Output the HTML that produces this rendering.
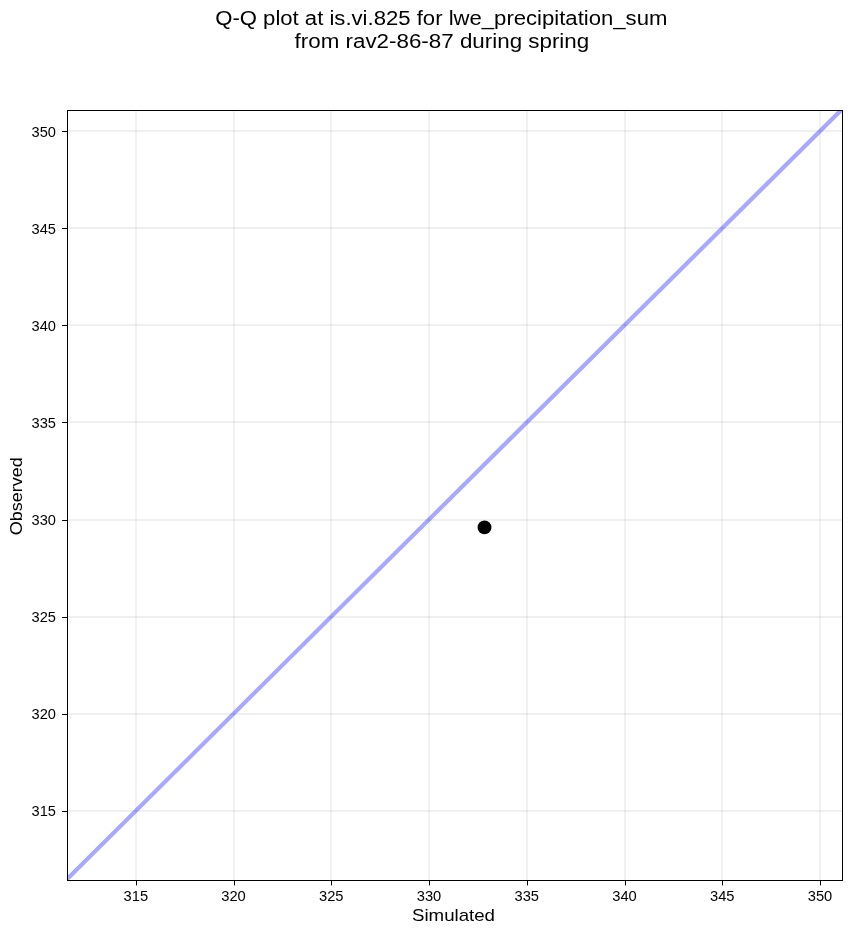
<!DOCTYPE html>
<html lang="en">
<head>
<meta charset="utf-8">
<title>Q-Q plot at is.vi.825 for lwe_precipitation_sum</title>
<style>
html,body{margin:0;padding:0;background:#ffffff;}
body{width:851px;height:934px;overflow:hidden;}
svg{display:block;will-change:transform;}
text{font-family:"Liberation Sans",sans-serif;fill:#000000;}
.title{font-size:19.5px;}
.tick{font-size:14.1px;}
.lab{font-size:17.0px;}
</style>
</head>
<body>
<svg width="851" height="934" viewBox="0 0 851 934">
<rect x="0" y="0" width="851" height="934" fill="#ffffff"/>
<defs><clipPath id="ax"><rect x="67.5" y="110.5" width="775.0" height="770.0"/></clipPath></defs>
<g shape-rendering="crispEdges" fill="#000000">
<rect x="135" y="111" width="2" height="769" fill-opacity="0.05"/>
<rect x="233" y="111" width="2" height="769" fill-opacity="0.05"/>
<rect x="330" y="111" width="2" height="769" fill-opacity="0.05"/>
<rect x="428" y="111" width="2" height="769" fill-opacity="0.05"/>
<rect x="526" y="111" width="2" height="769" fill-opacity="0.05"/>
<rect x="624" y="111" width="2" height="769" fill-opacity="0.05"/>
<rect x="721" y="111" width="2" height="769" fill-opacity="0.05"/>
<rect x="819" y="111" width="2" height="769" fill-opacity="0.05"/>
<rect x="68" y="810" width="774" height="2" fill-opacity="0.06"/>
<rect x="68" y="713" width="774" height="2" fill-opacity="0.06"/>
<rect x="68" y="616" width="774" height="2" fill-opacity="0.06"/>
<rect x="68" y="519" width="774" height="2" fill-opacity="0.06"/>
<rect x="68" y="421" width="774" height="2" fill-opacity="0.06"/>
<rect x="68" y="324" width="774" height="2" fill-opacity="0.06"/>
<rect x="68" y="227" width="774" height="2" fill-opacity="0.06"/>
<rect x="68" y="130" width="774" height="2" fill-opacity="0.06"/>
</g>
<g clip-path="url(#ax)"><line x1="27.85" y1="918.1" x2="880.35" y2="71.1" stroke="#0000ff" stroke-opacity="0.34" stroke-width="4.17" stroke-linecap="butt"/></g>
<circle cx="484.5" cy="527.4" r="6.95" fill="#000000"/>
<g shape-rendering="crispEdges" fill="#000000">
<rect x="67" y="110" width="776" height="1"/>
<rect x="67" y="880" width="776" height="1"/>
<rect x="67" y="110" width="1" height="771"/>
<rect x="842" y="110" width="1" height="771"/>
</g>
<g fill="#000000">
<rect x="136" y="881" width="1" height="4.4"/>
<rect x="234" y="881" width="1" height="4.4"/>
<rect x="331" y="881" width="1" height="4.4"/>
<rect x="429" y="881" width="1" height="4.4"/>
<rect x="527" y="881" width="1" height="4.4"/>
<rect x="625" y="881" width="1" height="4.4"/>
<rect x="722" y="881" width="1" height="4.4"/>
<rect x="820" y="881" width="1" height="4.4"/>
<rect x="62.1" y="811" width="4.9" height="1"/>
<rect x="62.1" y="714" width="4.9" height="1"/>
<rect x="62.1" y="617" width="4.9" height="1"/>
<rect x="62.1" y="520" width="4.9" height="1"/>
<rect x="62.1" y="422" width="4.9" height="1"/>
<rect x="62.1" y="325" width="4.9" height="1"/>
<rect x="62.1" y="228" width="4.9" height="1"/>
<rect x="62.1" y="131" width="4.9" height="1"/>
</g>
<text class="tick" x="135.80" y="901" text-anchor="middle" textLength="24.5" lengthAdjust="spacingAndGlyphs">315</text>
<text class="tick" x="233.54" y="901" text-anchor="middle" textLength="24.5" lengthAdjust="spacingAndGlyphs">320</text>
<text class="tick" x="331.28" y="901" text-anchor="middle" textLength="24.5" lengthAdjust="spacingAndGlyphs">325</text>
<text class="tick" x="429.02" y="901" text-anchor="middle" textLength="24.5" lengthAdjust="spacingAndGlyphs">330</text>
<text class="tick" x="526.76" y="901" text-anchor="middle" textLength="24.5" lengthAdjust="spacingAndGlyphs">335</text>
<text class="tick" x="624.50" y="901" text-anchor="middle" textLength="24.5" lengthAdjust="spacingAndGlyphs">340</text>
<text class="tick" x="722.24" y="901" text-anchor="middle" textLength="24.5" lengthAdjust="spacingAndGlyphs">345</text>
<text class="tick" x="819.98" y="901" text-anchor="middle" textLength="24.5" lengthAdjust="spacingAndGlyphs">350</text>
<text class="tick" x="56" y="816.39" text-anchor="end" textLength="24.4" lengthAdjust="spacingAndGlyphs">315</text>
<text class="tick" x="56" y="719.28" text-anchor="end" textLength="24.4" lengthAdjust="spacingAndGlyphs">320</text>
<text class="tick" x="56" y="622.17" text-anchor="end" textLength="24.4" lengthAdjust="spacingAndGlyphs">325</text>
<text class="tick" x="56" y="525.06" text-anchor="end" textLength="24.4" lengthAdjust="spacingAndGlyphs">330</text>
<text class="tick" x="56" y="427.95" text-anchor="end" textLength="24.4" lengthAdjust="spacingAndGlyphs">335</text>
<text class="tick" x="56" y="330.84" text-anchor="end" textLength="24.4" lengthAdjust="spacingAndGlyphs">340</text>
<text class="tick" x="56" y="233.73" text-anchor="end" textLength="24.4" lengthAdjust="spacingAndGlyphs">345</text>
<text class="tick" x="56" y="136.62" text-anchor="end" textLength="24.4" lengthAdjust="spacingAndGlyphs">350</text>
<text class="lab" x="412" y="921.1" textLength="83" lengthAdjust="spacingAndGlyphs">Simulated</text>
<text class="lab" transform="translate(22.2,535.3) rotate(-90)" x="0" y="0" textLength="78" lengthAdjust="spacingAndGlyphs">Observed</text>
<text class="title" x="215.2" y="24.8" textLength="452.2" lengthAdjust="spacingAndGlyphs">Q-Q plot at is.vi.825 for lwe_precipitation_sum</text>
<text class="title" x="294.6" y="47.8" textLength="294.6" lengthAdjust="spacingAndGlyphs">from rav2-86-87 during spring</text>
</svg>
</body>
</html>
